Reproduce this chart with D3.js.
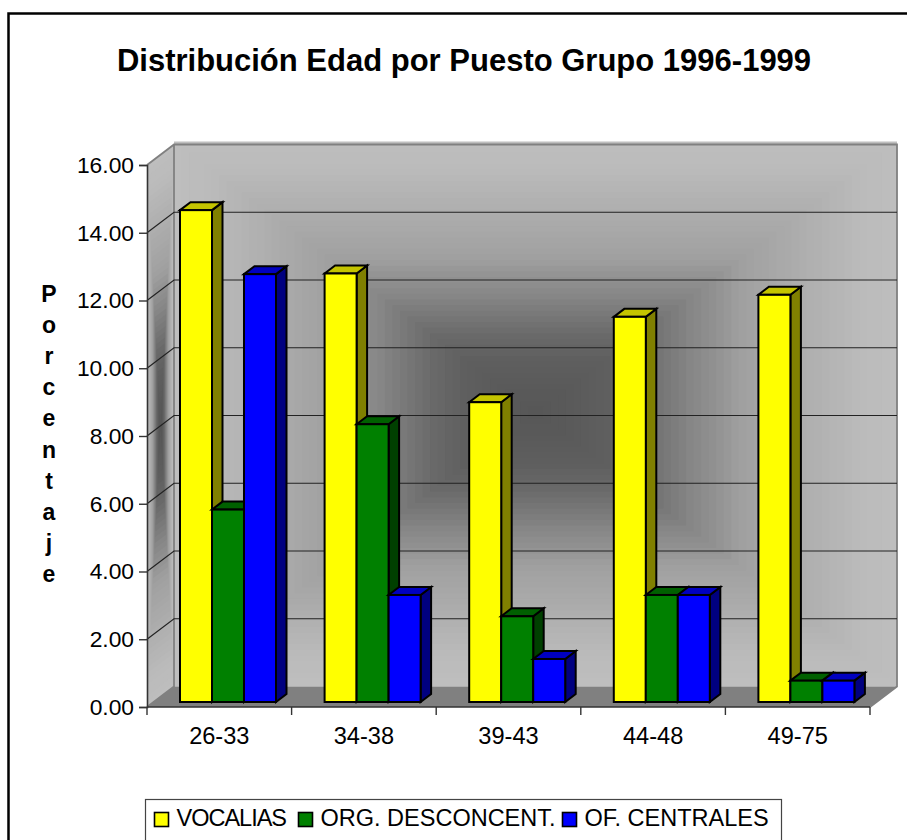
<!DOCTYPE html>
<html><head><meta charset="utf-8">
<script src="https://cdn.jsdelivr.net/npm/d3@7"></script>
<style>
html,body{margin:0;padding:0;background:#fff;overflow:hidden}
svg{display:block}
text{font-family:"Liberation Sans",Arial,sans-serif;fill:#000}
</style></head><body>
<svg id="c" width="907" height="840"></svg>
<script>
const title = "Distribución Edad por Puesto Grupo 1996-1999";
const axisTitle = "Porcentaje";
const categories = ["26-33","34-38","39-43","44-48","49-75"];
const seriesNames = ["VOCALIAS","ORG. DESCONCENT.","OF. CENTRALES"];
const vocalias = [14.52,12.65,8.85,11.37,12.02];
const orgDesconcent = [5.68,8.2,2.53,3.16,0.63];
const ofCentrales = [12.63,3.16,1.27,3.16,0.63];
const yTicks = [0,2,4,6,8,10,12,14,16];
const seriesValues = [vocalias,orgDesconcent,ofCentrales];
const faceColors = ["#ffff00","#008000","#0000ff"];
const topColors = ["#c4c400","#006000","#0000c0"];
const sideColors = ["#808000","#004000","#000080"];

const svg = d3.select("#c");
// plot geometry
const L=147,R=870,Y0=707,Y1=165,DX=27,DY=-20.5;
const yFront = d3.scaleLinear([0,16],[Y0,Y1]);
const yBack = d3.scaleLinear([0,16],[Y0+DY,Y1+DY]);
const yBar = d3.scaleLinear([0,16],[702,702-(Y0-Y1)]);
const x0 = d3.scaleBand(categories,[L,R]);
const x1 = d3.scaleBand(seriesNames,[33,129]);
const shade = d3.scaleLinear([0,.2,.3,.44,.5,.58,.9,1],["#565656","#5e5e5e","#6a6a6a","#868686","#909090","#a0a0a0","#bababa","#bebebe"]);
const steps = d3.range(48,0,-1).map(i=>i/48);

// outer frame (runs off the right and bottom of the picture)
svg.append("rect").attr("x",8.5).attr("y",13.5).attr("width",940).attr("height",880)
  .attr("fill","#fff").attr("stroke","#000").attr("stroke-width",2.5);

// back wall: rectangular gradient
const bx0=L+DX,bx1=R+DX,by0=Y1+DY,by1=Y0+DY,bcx=(bx0+bx1)/2,bcy=(by0+by1)/2-3;
svg.append("rect").attr("x",bx0).attr("y",by0).attr("width",bx1-bx0).attr("height",by1-by0).attr("fill",shade(1));
svg.append("g").selectAll("rect").data(steps).join("rect")
  .attr("x",s=>bcx-s*(bx1-bx0)/2).attr("y",s=>bcy-s*(by1-by0)/2)
  .attr("width",s=>s*(bx1-bx0)).attr("height",s=>s*(by1-by0))
  .attr("fill",s=>shade(s));
// side wall: same gradient, skewed
const wall=(u,v)=>[L+DX*u,Y0+DY*u-(Y0-Y1)*v];
svg.append("g").selectAll("polygon").data(steps).join("polygon")
  .attr("points",s=>{const a=.5-s/2,b=.5+s/2;return [wall(a,a),wall(b,a),wall(b,b),wall(a,b)].join(" ");})
  .attr("fill",s=>shade(s));
// floor
svg.append("polygon").attr("points",[[L,Y0],[bx0,by1],[bx1,by1],[R,Y0]].join(" ")).attr("fill","#808080");
// wall edges
svg.append("path").attr("d",`M${L},${Y1}L${bx0},${by0}L${bx1},${by0}L${bx1},${by1}L${R},${Y0}M${bx0},${by0}L${bx0},${by1}L${L},${Y0}`)
  .attr("fill","none").attr("stroke","#808080").attr("stroke-width",1.8);
// gridlines
const grid = svg.append("g").attr("fill","none");
grid.selectAll("path").data(yTicks.slice(1,-1)).join("path")
  .attr("d",t=>`M${L},${yFront(t)}L${bx0},${yBack(t)}L${bx1},${yBack(t)}`)
  .attr("stroke","#222").attr("stroke-width",1.2);

// bars
const bars = svg.append("g").attr("stroke","#000").attr("stroke-width",2).attr("stroke-linejoin","miter");
const bw=x1.bandwidth(),bdx=10.5,bdy=-8;
categories.forEach((c,ci)=>{
  seriesNames.forEach((n,si)=>{
    const v=seriesValues[si][ci],x=x0(c)+x1(n),yt=yBar(v),yb=yBar(0);
    const g=bars.append("g");
    g.append("polygon").attr("points",[[x+bw,yt],[x+bw+bdx,yt+bdy],[x+bw+bdx,yb+bdy],[x+bw,yb]].join(" ")).attr("fill",sideColors[si]);
    g.append("polygon").attr("points",[[x,yt],[x+bdx,yt+bdy],[x+bw+bdx,yt+bdy],[x+bw,yt]].join(" ")).attr("fill",topColors[si]);
    g.append("rect").attr("x",x).attr("y",yt).attr("width",bw).attr("height",yb-yt).attr("fill",faceColors[si]);
  });
});

// axes
const yAxis = svg.append("g").attr("transform",`translate(${L},0)`)
  .call(d3.axisLeft(yFront).tickValues(yTicks).tickFormat(d3.format(".2f")).tickSize(8).tickPadding(5));
const xAxis = svg.append("g").attr("transform",`translate(0,${Y0})`)
  .call(d3.axisBottom(x0).tickSize(0).tickPadding(20));
[yAxis,xAxis].forEach(a=>{
  a.selectAll(".domain").attr("stroke","#333").attr("stroke-width",1.6);
  a.selectAll("text").attr("font-family",'"Liberation Sans"').attr("fill","#000");
  a.selectAll(".tick line").attr("stroke","#333").attr("stroke-width",1.4);
});
yAxis.selectAll("text").attr("font-size",22.8);
xAxis.selectAll("text").attr("font-size",23.6);
xAxis.select(".domain").attr("d",`M${L},0H${R}`);
xAxis.selectAll("text").attr("dy","0.71em");
// category separators sit on the band edges
svg.append("g").selectAll("line").data(categories.map(c=>x0(c)).concat(R)).join("line")
  .attr("x1",d=>d).attr("x2",d=>d).attr("y1",Y0).attr("y2",Y0+8)
  .attr("stroke","#333").attr("stroke-width",1.4);

// title
svg.append("text").attr("x",464).attr("y",71).attr("text-anchor","middle")
  .attr("font-size",31).attr("font-weight","bold").text(title);
// vertical axis title, stacked
const letterY = d3.scalePoint(d3.range(axisTitle.length),[302,582]);
svg.append("g").selectAll("text").data(axisTitle.split("")).join("text")
  .attr("x",49).attr("y",(d,i)=>letterY(i)).attr("text-anchor","middle")
  .attr("font-size",23).attr("font-weight","bold").text(d=>d);

// legend
svg.append("rect").attr("x",145.5).attr("y",799.5).attr("width",636).attr("height",80)
  .attr("fill","#fff").attr("stroke","#444").attr("stroke-width",1.2);
const legendX = d3.scaleOrdinal(seriesNames,[154.5,298.5,562.5]);
const lg = svg.append("g").selectAll("g").data(seriesNames).join("g")
  .attr("transform",n=>`translate(${legendX(n)},812.5)`);
lg.append("rect").attr("width",14).attr("height",14).attr("stroke","#000").attr("stroke-width",1.6)
  .attr("fill",(n,i)=>faceColors[i]);
lg.append("text").attr("x",22).attr("y",13.5).attr("font-size",23.5)
  .attr("letter-spacing",(n,i)=>i===0?-1:0).text(n=>n);
</script></body></html>
